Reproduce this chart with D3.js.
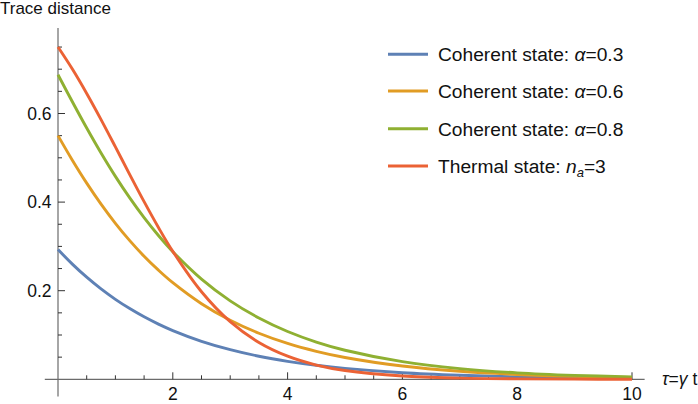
<!DOCTYPE html>
<html>
<head>
<meta charset="utf-8">
<script src="https://cdn.jsdelivr.net/npm/d3@7"></script>
<style>
  html, body { margin: 0; padding: 0; background: #fff; }
  svg { display: block; font-family: "Liberation Sans", Arial, sans-serif; }
</style>
</head>
<body>
<svg id="chart" width="698" height="404"></svg>
<script>
// ---- data ----
const tau = [0, 0.25, 0.5, 0.75, 1, 1.25, 1.5, 1.75, 2, 2.5, 3, 3.5, 4, 4.5, 5, 6, 7, 8, 9, 10];
const coherent03 = [0.293, 0.260, 0.2305, 0.204, 0.1805, 0.1596, 0.141, 0.1246, 0.110, 0.0858, 0.0669, 0.0521, 0.0406, 0.0316, 0.0246, 0.0149, 0.0091, 0.0055, 0.0033, 0.0020];
const coherent06 = [0.550, 0.4945, 0.4428, 0.3955, 0.3522, 0.3130, 0.2778, 0.2463, 0.218, 0.1706, 0.1333, 0.104, 0.081, 0.0632, 0.0492, 0.0299, 0.0181, 0.011, 0.0067, 0.0040];
const coherent08 = [0.6875, 0.6265, 0.5672, 0.5108, 0.458, 0.4094, 0.3648, 0.3245, 0.2881, 0.2262, 0.1771, 0.1384, 0.1079, 0.0841, 0.0656, 0.0398, 0.0242, 0.0146, 0.0089, 0.0054];
const thermal3   = [0.75, 0.7003, 0.6453, 0.5863, 0.5246, 0.4622, 0.401, 0.3427, 0.2888, 0.1976, 0.130, 0.0831, 0.0521, 0.0322, 0.0198, 0.0074, 0.0027, 0.0010, 0.0004, 0.0001];
const seriesNames = ["coherent03", "coherent06", "coherent08", "thermal3"];
const xTicks = [2, 4, 6, 8, 10];
const yTicks = [0.2, 0.4, 0.6];
const yLabel = "Trace distance";

const seriesValues = [coherent03, coherent06, coherent08, thermal3];
const colors = ["#5E81B5", "#E19C24", "#8FB032", "#EB6235"];

const svg = d3.select("#chart");
const x = d3.scaleLinear().domain([0, 10]).range([58, 632]);
const y = d3.scaleLinear().domain([0, 0.2]).range([379.3, 290.7]);

const axisColor = "#6b6b6b";
const textColor = "#111";

// x-axis line
svg.append("line").attr("x1", x(-0.23)).attr("x2", x(10.22))
  .attr("y1", y(0)).attr("y2", y(0)).attr("stroke", axisColor).attr("stroke-width", 1.2);
// y-axis line
svg.append("line").attr("x1", x(0)).attr("x2", x(0))
  .attr("y1", y(0.793)).attr("y2", y(-0.039)).attr("stroke", axisColor).attr("stroke-width", 1.2);

// x ticks (pointing up)
const xMinor = d3.range(0.5, 10.01, 0.5).filter(v => !xTicks.includes(Math.round(v * 100) / 100));
svg.append("g").selectAll("line").data(xMinor).join("line")
  .attr("x1", d => x(d)).attr("x2", d => x(d))
  .attr("y1", y(0)).attr("y2", y(0) - 4).attr("stroke", "#333").attr("stroke-width", 1);
svg.append("g").selectAll("line").data(xTicks).join("line")
  .attr("x1", d => x(d)).attr("x2", d => x(d))
  .attr("y1", y(0)).attr("y2", y(0) - 7).attr("stroke", "#333").attr("stroke-width", 1);
svg.append("g").selectAll("text").data(xTicks).join("text")
  .attr("x", d => x(d)).attr("y", 400).attr("text-anchor", "middle")
  .attr("font-size", 17.5).attr("fill", textColor).text(d => d);

// y ticks (pointing right)
const yMinor = d3.range(0.05, 0.751, 0.05).filter(v => !yTicks.some(t => Math.abs(t - v) < 1e-6));
svg.append("g").selectAll("line").data(yMinor).join("line")
  .attr("x1", x(0)).attr("x2", x(0) + 4)
  .attr("y1", d => y(d)).attr("y2", d => y(d)).attr("stroke", "#333").attr("stroke-width", 1);
svg.append("g").selectAll("line").data(yTicks).join("line")
  .attr("x1", x(0)).attr("x2", x(0) + 7)
  .attr("y1", d => y(d)).attr("y2", d => y(d)).attr("stroke", "#333").attr("stroke-width", 1);
svg.append("g").selectAll("text").data(yTicks).join("text")
  .attr("x", 51.5).attr("y", d => y(d) + 6.3).attr("text-anchor", "end")
  .attr("font-size", 17.5).attr("fill", textColor).text(d => d.toFixed(1));

// axis titles
svg.append("text").attr("x", 0).attr("y", 14).attr("font-size", 17).attr("fill", textColor).text(yLabel);
const xt = svg.append("text").attr("x", 662).attr("y", 385).attr("font-size", 17.5).attr("fill", textColor);
xt.append("tspan").attr("font-style", "italic").text("τ");
xt.append("tspan").text("=");
xt.append("tspan").attr("font-style", "italic").text("γ");
xt.append("tspan").text(" t");

// curves
const line = d3.line().x((d, i) => x(tau[i])).y(d => y(d)).curve(d3.curveCatmullRom.alpha(0.5));
svg.append("g").selectAll("path").data(seriesValues).join("path")
  .attr("d", d => line(d)).attr("fill", "none")
  .attr("stroke", (d, i) => colors[i]).attr("stroke-width", 2.9)
  .attr("stroke-linejoin", "round").attr("stroke-linecap", "butt");

// legend
const legendY = [54.3, 91, 128.7, 166];
const lg = svg.append("g");
seriesNames.forEach((name, i) => {
  lg.append("line").attr("x1", 388).attr("x2", 428).attr("y1", legendY[i]).attr("y2", legendY[i])
    .attr("stroke", colors[i]).attr("stroke-width", 2.9);
  const t = lg.append("text").attr("x", 438).attr("y", legendY[i] + 7).attr("font-size", 19.2).attr("fill", textColor);
  if (i < 3) {
    t.append("tspan").text("Coherent state: ");
    t.append("tspan").attr("font-style", "italic").text("α");
    t.append("tspan").text("=" + ["0.3", "0.6", "0.8"][i]);
  } else {
    t.append("tspan").text("Thermal state: ");
    t.append("tspan").attr("font-style", "italic").text("n");
    t.append("tspan").attr("font-style", "italic").attr("font-size", 13).attr("dy", 4).text("a");
    t.append("tspan").attr("dy", -4).text("=3");
  }
});
</script>
</body>
</html>
